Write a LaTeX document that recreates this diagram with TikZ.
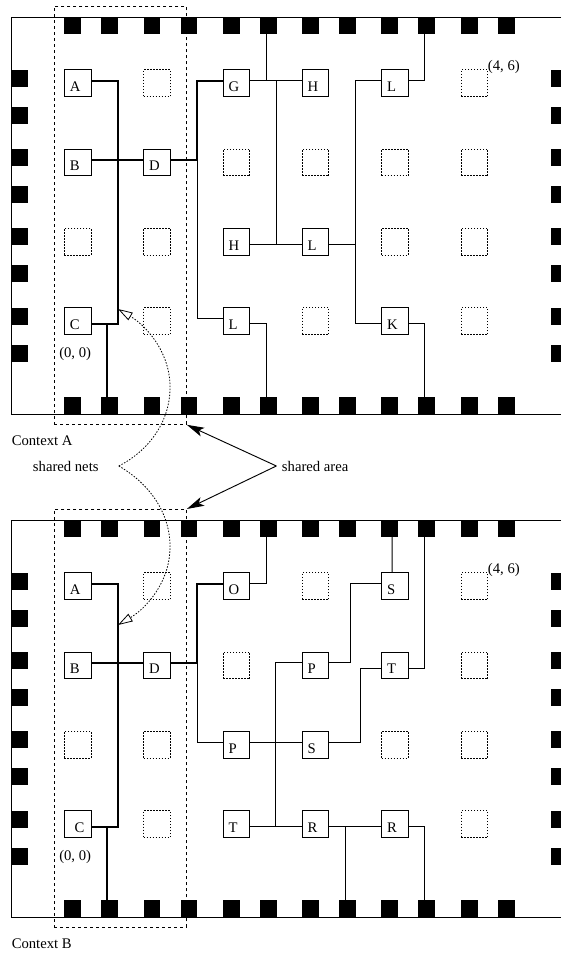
\documentclass[tikz,border=0pt]{standalone}
\usepackage{fontspec}
\setmainfont{Liberation Serif}
\usetikzlibrary{arrows.meta, positioning, calc}
\tikzset{
    every node/.style={font=\fontsize{11}{13}\selectfont},
    cell/.style={draw, rectangle, line width=0.7pt, minimum size=20pt, inner xsep=4pt, inner ysep=0pt,
        text width=12pt, align=left, text height=16.3pt, text depth=3.6pt},
    emptycell/.style={draw, rectangle, line width=0.7pt, minimum size=20pt, inner sep=0pt, dash pattern=on 1.1pt off 1.15pt},
    padbox/.style={rectangle, fill=black, minimum size=12.4pt, inner sep=0pt},
    sidepad/.style={padbox, minimum width=7.5pt},
    sharedbox/.style={draw, rectangle, line width=0.6pt, inner sep=0pt, minimum width=99pt, minimum height=313.5pt, dash pattern=on 2.3pt off 2.2pt},
    net/.style={line width=0.7pt},
    sharednet/.style={line width=1.4pt},
    frameline/.style={line width=0.75pt},
    caption/.style={anchor=base west, inner sep=0pt},
    areaarrow/.style={line width=0.7pt, -{Stealth[length=13pt, width=7pt, inset=3pt]}},
    netarrow/.style={line width=0.6pt, dash pattern=on 1.1pt off 1.15pt, -{Triangle[open, fill=white, length=11pt, width=6.5pt]}}
}

\begin{document}
\begin{tikzpicture}[x=0.75pt, y=-0.75pt]
    \useasboundingbox (0,0) rectangle (561,954);

    % Shared areas
    \node[sharedbox, anchor=north west] (ashared) at (54,6) {};
    \node[sharedbox, anchor=north west, minimum height=313.5pt] (bshared) at (54,509) {};

    % Frames and pads
    \foreach \ctx/\dy in {a/0, b/503} {
        \draw[frameline] (561,17+\dy) -- (11,17+\dy) -- (11,414+\dy) -- (561,414+\dy);
        \foreach \x [count=\i] in {64,101,143.5,180.5,223,260,302,339,381,418,461,498} {
            \node[padbox, anchor=north west] (\ctx top\i) at (\x,17+\dy) {};
            \node[padbox, anchor=south west] (\ctx bot\i) at (\x,414+\dy) {};
        }
        \foreach \y [count=\i] in {70,107,149,186,228,265,308,345} {
            \node[padbox, anchor=north west] (\ctx left\i) at (11,\y+\dy) {};
            \node[sidepad, anchor=north west] (\ctx right\i) at (551,\y+\dy) {};
        }
    }

    % Context A cells
    \node[cell] (aA) at (77.75,83.25) {A};
    \node[cell] (aB) at (77.75,162.5) {B};
    \node[cell] (aC) at (77.75,321) {C};
    \node[cell] (aD) at (157,162.5) {D};
    \node[cell] (aG) at (236.5,83.25) {G};
    \node[cell] (aHone) at (315.5,83.25) {H};
    \node[cell] (aLone) at (395,83.25) {L};
    \node[cell] (aHtwo) at (236.5,241.7) {H};
    \node[cell] (aLtwo) at (315.5,241.7) {L};
    \node[cell] (aLthree) at (236.5,321) {L};
    \node[cell] (aK) at (395,321) {K};
    \foreach \x/\y [count=\i] in {157/83.25, 474.5/83.25, 236.5/162.5, 315.5/162.5, 395/162.5, 474.5/162.5,
        77.75/241.7, 157/241.7, 395/241.7, 474.5/241.7, 157/321, 315.5/321, 474.5/321} {
        \node[emptycell] (aempty\i) at (\x,\y) {};
    }

    % Context B cells
    \node[cell] (bA) at (77.75,586.25) {A};
    \node[cell] (bB) at (77.75,665.5) {B};
    \node[cell] (bC) at (77.75,824) {\hspace*{3.7pt}C};
    \node[cell] (bD) at (157,665.5) {D};
    \node[cell] (bO) at (236.5,586.25) {O};
    \node[cell] (bSone) at (395,586.25) {S};
    \node[cell] (bPone) at (315.5,665.5) {P};
    \node[cell] (bTone) at (395,665.5) {T};
    \node[cell] (bPtwo) at (236.5,744.7) {P};
    \node[cell] (bStwo) at (315.5,744.7) {S};
    \node[cell] (bTtwo) at (236.5,824) {T};
    \node[cell] (bRone) at (315.5,824) {R};
    \node[cell] (bRtwo) at (395,824) {R};
    \foreach \x/\y [count=\i] in {157/586.25, 315.5/586.25, 474.5/586.25, 236.5/665.5, 474.5/665.5,
        77.75/744.7, 157/744.7, 395/744.7, 474.5/744.7, 157/824, 474.5/824} {
        \node[emptycell] (bempty\i) at (\x,\y) {};
    }

    % Context A nets
    \draw[net] (aD.11) -- ++(26.5,0) |- (aLthree.169);
    \draw[net] (aG.11) -- (aHone.169);
    \draw[net] ([xshift=-1.9pt]atop6.south) |- (aG.11);
    \draw[net] (aG.11) -- ++(26,0) |- (aHtwo.-11);
    \draw[net] (aHtwo.-11) -- (aLtwo.191);
    \draw[net] (aLtwo.-11) -- ++(26,0) |- (aLone.169);
    \draw[net] (aLtwo.-11) -- ++(26,0) |- (aK.191);
    \draw[net] (aLone.11) -| ([xshift=-1.9pt]atop10.south);
    \draw[net] (aLthree.-11) -| ([xshift=-1.9pt]abot6.north);
    \draw[net] (aK.-11) -| ([xshift=-1.9pt]abot10.north);
    \draw[sharednet] (aA.11) -- ++(26.7,0) |- (aC.-11);
    \draw[sharednet] (aB.11) -- (aD.169);
    \draw[sharednet] (aD.11) -- ++(26.5,0) |- (aG.169);
    \draw[sharednet] (aC.-11) -| ([xshift=-1.9pt]abot2.north);

    % Context B nets
    \draw[net] (bD.11) -- ++(26.5,0) |- (bPtwo.169);
    \draw[net] (bO.11) -| ([xshift=-1.9pt]btop6.south);
    \draw[net] ([xshift=-2.2pt]bSone.north) -- ([xshift=1.9pt]btop9.south);
    \draw[net] (bSone.169) -- ++(-31,0) |- (bPone.11);
    \draw[net] (bTone.-11) -| ([xshift=-1.9pt]btop10.south);
    \draw[net] (bTone.191) -- ++(-21,0) |- (bStwo.11);
    \draw[net] (bPtwo.11) -- (bStwo.169);
    \draw[net] (bPone.169) -- ++(-26,0) |- (bTtwo.-11);
    \draw[net] (bTtwo.-11) -- (bRone.191);
    \draw[net] (bRone.-11) -- (bRtwo.191);
    \draw[net] ([xshift=-1.9pt]bbot8.north) |- (bRone.-11);
    \draw[net] (bRtwo.-11) -| ([xshift=-1.9pt]bbot10.north);
    \draw[sharednet] (bA.11) -- ++(26.7,0) |- (bC.-11);
    \draw[sharednet] (bB.11) -- (bD.169);
    \draw[sharednet] (bD.11) -- ++(26.5,0) |- (bO.169);
    \draw[sharednet] (bC.-11) -| ([xshift=-1.9pt]bbot2.north);

    % Labels
    \node[caption] (aorigin) at (59,357) {(0, 0)};
    \node[caption] (borigin) at (59,860) {(0, 0)};
    \node[caption] (acorner) at (487.7,70) {(4, 6)};
    \node[caption] (bcorner) at (487.7,573) {(4, 6)};
    \node[caption] (contextA) at (11.5,445.7) {Context A};
    \node[caption] (contextB) at (11.5,948) {Context B};
    \node[caption] (sharednets) at (32.7,471) {shared nets};
    \node[caption] (sharedarea) at (281.7,471) {shared area};

    % Arrows
    \draw[areaarrow] ([xshift=-4pt]sharedarea.west) -- (ashared.south east);
    \draw[areaarrow] ([xshift=-4pt]sharedarea.west) -- (bshared.north east);
    \coordinate (anettip) at (118,309);
    \coordinate (bnettip) at (118,625);
    \draw[netarrow] ([xshift=15pt]sharednets.east) .. controls (150,450) and (171,420) .. (170,385) .. controls (169,350) and (145,325) .. (anettip);
    \draw[netarrow] ([xshift=15pt]sharednets.east) .. controls (150,484) and (171,514) .. (170,549) .. controls (169,584) and (145,609) .. (bnettip);
\end{tikzpicture}
\end{document}
